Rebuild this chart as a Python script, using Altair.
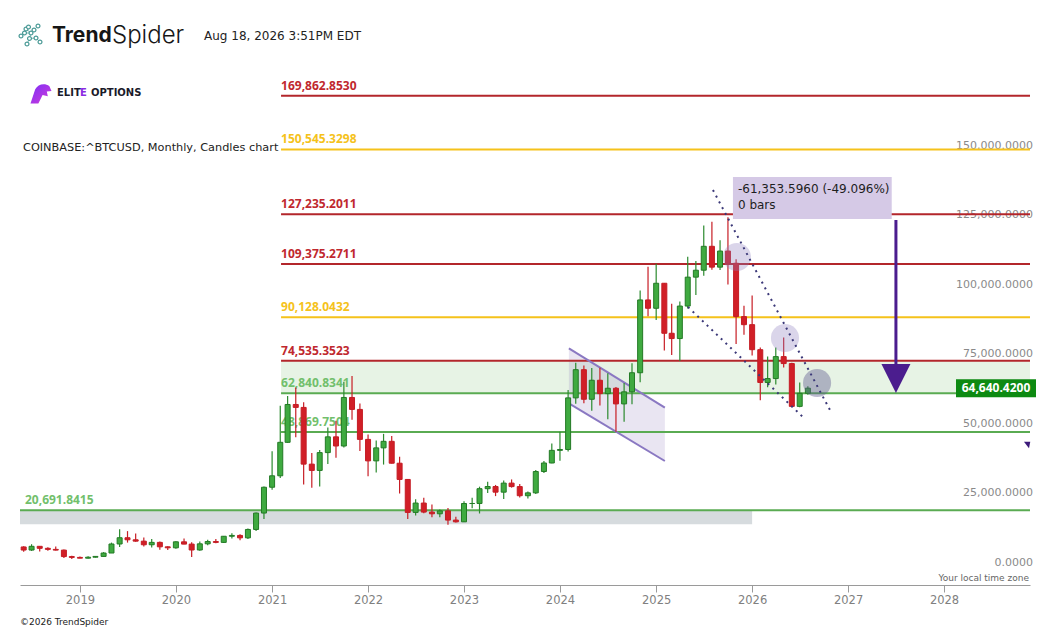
import altair as alt
import pandas as pd

# ---------------- candle data (monthly, USD) ----------------
opens = [7500, 6390, 7730, 7010, 6630, 6370, 4040,
         3740, 3460, 3810, 4100, 5320, 8570, 10820, 10080, 9590, 8290, 9150, 7550,
         7190, 9350, 8530, 6410, 8630, 9450, 9140, 11350, 11650, 10780, 13800, 19700,
         28990, 33110, 45160, 58780, 57720, 37310, 35040, 41460, 47130, 43830, 61300, 57000,
         46210, 38480, 43160, 45510, 37640, 31800, 19930, 23300, 20050, 19430, 20490, 17170,
         16540, 23140, 23150, 28470, 29250, 27220, 30480, 29230, 25940, 26970, 34650, 37720,
         42270, 42580, 61150, 71300, 60650, 67500, 62680, 64620, 58980, 63330, 70200, 96400,
         93400, 102400, 84400, 82500, 94200, 104600, 107100, 115700, 108200, 114000, 109600, 90400,
         87500, 78500, 66700, 68100, 76000, 73500, 58100, 62800]
highs = [7770, 8490, 7760, 7410, 7680, 6620, 4310,
         4070, 4200, 4150, 5640, 9070, 13880, 13200, 12330, 10910, 10370, 9510, 7750,
         9580, 10500, 9200, 9470, 10080, 10380, 11440, 12470, 12080, 14100, 19860, 29300,
         41950, 58350, 61790, 64900, 59600, 41300, 42400, 50500, 52920, 67000, 69000, 59100,
         47990, 45850, 48200, 47440, 40000, 31990, 24670, 25200, 22800, 21000, 21480, 18400,
         23950, 25250, 29200, 31000, 29820, 31440, 31800, 30200, 27480, 35200, 38400, 44700,
         48970, 64000, 73800, 72800, 71950, 71980, 70000, 65100, 66500, 73600, 99800, 108300,
         109400, 102500, 95000, 95800, 111900, 110400, 123200, 124500, 117900, 126200, 111000, 94300,
         98000, 79300, 76000, 79300, 82900, 73800, 66700, 65300]
lows = [5750, 6070, 5880, 6120, 6200, 3550, 3130,
        3400, 3370, 3690, 4090, 5320, 7450, 9070, 9350, 7700, 7300, 6520, 6430,
        6850, 8450, 3850, 6150, 8110, 8830, 8970, 10540, 9880, 10380, 13200, 17600,
        28130, 32300, 45000, 47000, 30000, 28800, 29280, 37330, 39600, 43280, 53250, 42000,
        32950, 34320, 37150, 37580, 26700, 17600, 18780, 19600, 18150, 18200, 15480, 16300,
        16500, 21400, 19550, 26950, 25800, 24750, 28860, 25330, 24900, 26550, 34120, 37600,
        38500, 41880, 59000, 59200, 56500, 58400, 53500, 49000, 52550, 58900, 66800, 90500,
        89200, 78200, 76600, 74400, 93300, 98200, 105100, 107300, 107200, 102000, 80500, 83900,
        76400, 60300, 65000, 66000, 72100, 57800, 57800, 62300]
closes = [6390, 7730, 7010, 6630, 6370, 4040, 3740,
          3460, 3810, 4100, 5320, 8570, 10820, 10080, 9590, 8290, 9150, 7550, 7190,
          9350, 8530, 6410, 8630, 9450, 9140, 11350, 11650, 10780, 13800, 19700, 28990,
          33110, 45160, 58780, 57720, 37310, 35040, 41460, 47130, 43830, 61300, 57000, 46210,
          38480, 43160, 45510, 37640, 31800, 19930, 23300, 20050, 19430, 20490, 17170, 16540,
          23140, 23150, 28470, 29250, 27220, 30480, 29230, 25940, 26970, 34650, 37720, 42270,
          42580, 61150, 71300, 60650, 67500, 62680, 64620, 58980, 63330, 70200, 96400, 93400,
          102400, 84400, 82500, 94200, 104600, 107100, 115700, 108200, 114000, 109600, 90400, 87500,
          78500, 66700, 68100, 76000, 73500, 58100, 62800, 64640.42]
months = pd.date_range("2018-06-01", periods=len(closes), freq="MS").strftime("%Y-%m-%d").tolist()

# ---------------- horizontal levels ----------------
level_values = [169862.8530, 150545.3298, 127235.2011, 109375.2711, 90128.0432,
                74535.3523, 62840.8341, 48869.7504, 20691.8415]
level_labels = ["169,862.8530", "150,545.3298", "127,235.2011", "109,375.2711", "90,128.0432",
                "74,535.3523", "62,840.8341", "48,869.7504", "20,691.8415"]
level_line_colors = ["#b3262b", "#f5c21b", "#b3262b", "#b3262b", "#f5c21b",
                     "#b3262b", "#5aab52", "#5aab52", "#5aab52"]
level_label_colors = ["#c0282e", "#f5c21b", "#c0282e", "#c0282e", "#f5c21b",
                      "#c0282e", "#72bf6c", "#72bf6c", "#72bf6c"]
level_starts = ["2021-02-04"] * 8 + ["2018-05-18"]
level_label_x = ["2021-02-04"] * 8 + ["2018-06-06"]
level_end = "2028-11-23"

# zones
zone_x = ["2021-02-04", "2018-05-18"]
zone_x2 = ["2028-11-23", "2026-01-01"]
zone_lo = [62840.8341, 15650]
zone_hi = [74535.3523, 20691.8415]
zone_colors = ["#e7f3e5", "#d6dbde"]

# descending channel (2024)
channel_dates = ["2024-02-04", "2025-02-03"]
channel_upper = [79000, 57620]
channel_lower = [59200, 38440]

# dotted trend lines
trend_ids = ["upper", "upper", "lower", "lower"]
trend_dates = ["2025-08-05", "2026-10-24", "2025-05-02", "2026-07-21"]
trend_values = [135970, 56790, 93860, 53550]

# highlight circles
circle_dates = ["2025-11-04", "2026-05-06", "2026-09-05"]
circle_values = [111860, 82700, 66510]
circle_colors = ["#8f7fc0", "#8f7fc0", "#5f5a8f"]
circle_opacity = [0.33, 0.33, 0.42]

# measurement box
measure_x = ["2025-10-20"]
measure_x2 = ["2027-06-16"]
measure_top = [140650]
measure_bottom = [125530]
measure_lines = ["-61,353.5960 (-49.096%)", "0 bars"]
measure_line_values = [136330, 130570]

# arrow
arrow_date = ["2027-07-02"]
arrow_from = [125170]
arrow_to = [72000]
arrow_head_value = [68130]
small_mark_date = ["2028-11-12"]
small_mark_value = [44200]

# axis ticks
ytick_values = [0, 25000, 50000, 75000, 100000, 125000, 150000]
ytick_labels = ["0.0000", "25,000.0000", "50,000.0000", "75,000.0000",
                "100,000.0000", "125,000.0000", "150,000.0000"]
year_ticks = list(range(2019, 2029))
last_price = [64640.42]
last_price_label = ["64,640.4200"]

# ---------------- chart ----------------
W, H = 1010, 525
XS = alt.Scale(type="utc", nice=False, padding=0,
               domain=[alt.DateTime(year=2018, month=5, date=18, utc=True),
                       alt.DateTime(year=2028, month=11, date=23, utc=True)])
YS = alt.Scale(domain=[-6190, 182750], nice=False, zero=False, padding=0)
XAX = alt.Axis(values=[alt.DateTime(year=y, month=1, date=1, utc=True) for y in year_ticks],
               format="%Y", title=None, grid=False, domainColor="#9a9a9a", tickColor="#9a9a9a",
               tickSize=7, labelColor="#808080", labelFontSize=11.5, labelFont="DejaVu Sans",
               labelPadding=2, labelFlush=False)


def X(f):
    return alt.X(f, type="temporal", scale=XS, axis=XAX)


def Y(f):
    return alt.Y(f, type="quantitative", scale=YS, axis=None)


candles = pd.DataFrame({"date": months, "open": opens, "high": highs, "low": lows, "close": closes})
levels = pd.DataFrame({"v": level_values, "label": level_labels, "lc": level_line_colors,
                       "tc": level_label_colors, "x": level_starts, "lx": level_label_x,
                       "x2": [level_end] * len(level_values)})
zones = pd.DataFrame({"x": zone_x, "x2": zone_x2, "lo": zone_lo, "hi": zone_hi, "c": zone_colors})
channel = pd.DataFrame({"date": channel_dates, "up": channel_upper, "lo": channel_lower})
trends = pd.DataFrame({"id": trend_ids, "date": trend_dates, "v": trend_values})
circles = pd.DataFrame({"date": circle_dates, "v": circle_values, "c": circle_colors, "o": circle_opacity})
measure = pd.DataFrame({"x": measure_x, "x2": measure_x2, "t": measure_top, "b": measure_bottom})
measure_txt = pd.DataFrame({"x": measure_x * 2, "v": measure_line_values, "t": measure_lines})
arrow = pd.DataFrame({"x": arrow_date, "a": arrow_from, "b": arrow_to, "h": arrow_head_value})
small = pd.DataFrame({"x": small_mark_date, "v": small_mark_value})
yt = pd.DataFrame({"v": ytick_values, "t": ytick_labels})
lp = pd.DataFrame({"v": last_price, "t": last_price_label})
one = pd.DataFrame({"a": [0]})

zone_layer = alt.Chart(zones).mark_rect().encode(
    x=X("x:T"), x2="x2:T", y=Y("lo:Q"), y2="hi:Q", color=alt.Color("c:N", scale=None))

channel_area = alt.Chart(channel).mark_area(color="#8f7fc0", opacity=0.2).encode(
    x=X("date:T"), y=Y("up:Q"), y2="lo:Q")

ytext = alt.Chart(yt).mark_text(align="right", baseline="alphabetic", dy=-2, font="DejaVu Sans",
                                fontSize=11, color="#8a8a8a").encode(
    x=alt.value(W + 3), y=Y("v:Q"), text="t:N")

level_text = alt.Chart(levels).mark_text(align="left", baseline="alphabetic", dy=-6, font="Open Sans",
                                         fontSize=12, fontWeight="bold").encode(
    x=X("lx:T"), y=Y("v:Q"), text="label:N", color=alt.Color("tc:N", scale=None))

level_lines = alt.Chart(levels).mark_rule(strokeWidth=2).encode(
    x=X("x:T"), x2="x2:T", y=Y("v:Q"), color=alt.Color("lc:N", scale=None))

channel_up = alt.Chart(channel).mark_line(color="#8a78c2", strokeWidth=2).encode(
    x=X("date:T"), y=Y("up:Q"))
channel_lo = alt.Chart(channel).mark_line(color="#8a78c2", strokeWidth=2).encode(
    x=X("date:T"), y=Y("lo:Q"))

base = alt.Chart(candles).transform_calculate(
    dir="datum.close >= datum.open ? 'up' : 'down'")
wicks = base.mark_rule(strokeWidth=1.2).encode(
    x=X("date:T"), y=Y("low:Q"), y2="high:Q",
    color=alt.Color("dir:N", scale=alt.Scale(domain=["up", "down"], range=["#2b8a2e", "#c71d25"]),
                    legend=None))
bodies = base.mark_bar(size=5, strokeWidth=1).encode(
    x=X("date:T"), y=Y("open:Q"), y2="close:Q",
    fill=alt.Fill("dir:N", scale=alt.Scale(domain=["up", "down"], range=["#3faa40", "#d11f27"]),
                  legend=None),
    stroke=alt.Stroke("dir:N", scale=alt.Scale(domain=["up", "down"], range=["#237a25", "#c41c24"]),
                      legend=None))

circle_layer = alt.Chart(circles).mark_point(filled=True, shape="circle", size=790, strokeWidth=0).encode(
    x=X("date:T"), y=Y("v:Q"), color=alt.Color("c:N", scale=None),
    opacity=alt.Opacity("o:Q", scale=None))

trend_layer = alt.Chart(trends).mark_line(color="#3b3878", strokeWidth=2, strokeDash=[2, 4.5]).encode(
    x=X("date:T"), y=Y("v:Q"), detail="id:N")

measure_box = alt.Chart(measure).mark_rect(color="#d5c9e6").encode(
    x=X("x:T"), x2="x2:T", y=Y("t:Q"), y2="b:Q")
measure_text = alt.Chart(measure_txt).mark_text(align="left", baseline="middle", dx=5,
                                                font="DejaVu Sans", fontSize=12, color="#1e1e1e").encode(
    x=X("x:T"), y=Y("v:Q"), text="t:N")

arrow_shaft = alt.Chart(arrow).mark_rule(color="#4b1d8e", strokeWidth=3).encode(
    x=X("x:T"), y=Y("a:Q"), y2="b:Q")
arrow_head = alt.Chart(arrow).mark_point(shape="M-1,-1L1,-1L0,1Z", size=841, filled=True,
                                         color="#4b1d8e", opacity=1).encode(
    x=X("x:T"), y=Y("h:Q"))
small_head = alt.Chart(small).mark_point(shape="M-1,-1L1,-1L0.6,1Z", size=40, filled=True,
                                         color="#3c1a7a", opacity=1).encode(
    x=X("x:T"), y=Y("v:Q"))

lp_box = alt.Chart(lp).mark_point(shape="M-1,-0.225L1,-0.225L1,0.225L-1,0.225Z", size=6400,
                                  filled=True, color="#0d8a12", opacity=1).encode(
    x=alt.value(976), y=Y("v:Q"))
lp_text = alt.Chart(lp).mark_text(align="center", baseline="middle", font="Open Sans", fontSize=12,
                                  fontWeight="bold", color="white").encode(
    x=alt.value(976), y=Y("v:Q"), text="t:N")

# header logo icon (plot-area pixel positions of its little rings)
ring_x = [1, 4.5, 6, 8.5, 11, 14, 18, 9.5, 16, 20, 7]
ring_y = [-24, -27, -31, -33, -27, -30, -34, -21.5, -22, -18, -16]
link_id = ["a", "a", "a", "a", "b", "b", "b", "c", "c", "c", "d", "d", "d"]
link_x = [1, 4.5, 11, 9.5, 6, 11, 14, 9.5, 16, 20, 8.5, 6, 4.5]
link_y = [-24, -27, -27, -21.5, -31, -27, -30, -21.5, -22, -18, -33, -31, -27]
link_o = list(range(len(link_x)))
rings = pd.DataFrame({"x": ring_x, "y": ring_y})
links = pd.DataFrame({"id": link_id, "x": link_x, "y": link_y, "o": link_o})
links.loc[len(links)] = ["e", 9.5, -21.5, 99]
links.loc[len(links)] = ["e", 7, -16, 100]
icon_lines = alt.Chart(links).mark_line(color="#6fb3ae", strokeWidth=0.9).encode(
    x=alt.X("x:Q", scale=None), y=alt.Y("y:Q", scale=None), detail="id:N", order="o:Q")
icon_rings = alt.Chart(rings).mark_point(shape="circle", size=15, color="#4a9a96", filled=False,
                                         strokeWidth=1.2, fill="white", opacity=1).encode(
    x=alt.X("x:Q", scale=None), y=alt.Y("y:Q", scale=None))


def label(txt, x, y, **kw):
    return alt.Chart(one).mark_text(text=txt, **kw).encode(x=alt.value(x), y=alt.value(y))


hdr = [
    label("Trend", 32, -24, align="left", baseline="middle", font="Inter", fontSize=21,
          fontWeight="bold", color="#161616"),
    label("Spider", 92, -24, align="left", baseline="middle", font="Inter", fontSize=24,
          fontWeight=300, color="#161616"),
    label("Aug 18, 2026 3:51PM EDT", 184, -24, align="left", baseline="middle",
          font="DejaVu Sans", fontSize=12, color="#222222"),
    label("ELIT", 37, 33, align="left", baseline="middle", font="DejaVu Sans", fontSize=10,
          fontWeight="bold", color="#1a1a2a"),
    label("E", 60, 33, align="left", baseline="middle", font="DejaVu Sans", fontSize=10,
          fontWeight="bold", color="#8a2be2"),
    label("OPTIONS", 71, 33, align="left", baseline="middle", font="DejaVu Sans", fontSize=10,
          fontWeight="bold", color="#1a1a2a"),
    label("COINBASE:^BTCUSD, Monthly, Candles chart", 3, 88, align="left", baseline="middle",
          font="DejaVu Sans", fontSize=11.3, color="#222222"),
    label("Your local time zone", 1009, 521, align="right", baseline="alphabetic",
          font="DejaVu Sans", fontSize=9, color="#666666"),
    label("\u00a92026 TrendSpider", 0, 562, align="left", baseline="middle",
          font="DejaVu Sans", fontSize=9, color="#222222"),
]
eagle = alt.Chart(one).mark_point(
    shape="M-1,1L-0.55,-0.35C-0.3,-0.85 0.35,-1 0.8,-0.65L1,-0.2L0.55,-0.15L0.65,0.3L0.15,0.2L-0.25,1Z",
    size=441, filled=True, opacity=1,
    color=alt.Gradient(gradient="linear", x1=0, y1=0, x2=1, y2=1,
                       stops=[alt.GradientStop(color="#7b2ff7", offset=0),
                              alt.GradientStop(color="#d43bd8", offset=1)])
).encode(x=alt.value(21), y=alt.value(33))

chart = alt.layer(
    zone_layer, channel_area, ytext, level_text, level_lines, channel_up, channel_lo,
    wicks, bodies, circle_layer, trend_layer, measure_box, measure_text,
    arrow_shaft, arrow_head, small_head, lp_box, lp_text,
    icon_lines, icon_rings, eagle, *hdr
).properties(
    width=W, height=H,
    autosize=alt.AutoSizeParams(type="none"),
    padding={"left": 12, "top": 52, "right": 8, "bottom": 44},
    background="white",
).configure_view(stroke=None)

chart.save("out.html", embed_options={"renderer": "svg", "actions": False})
